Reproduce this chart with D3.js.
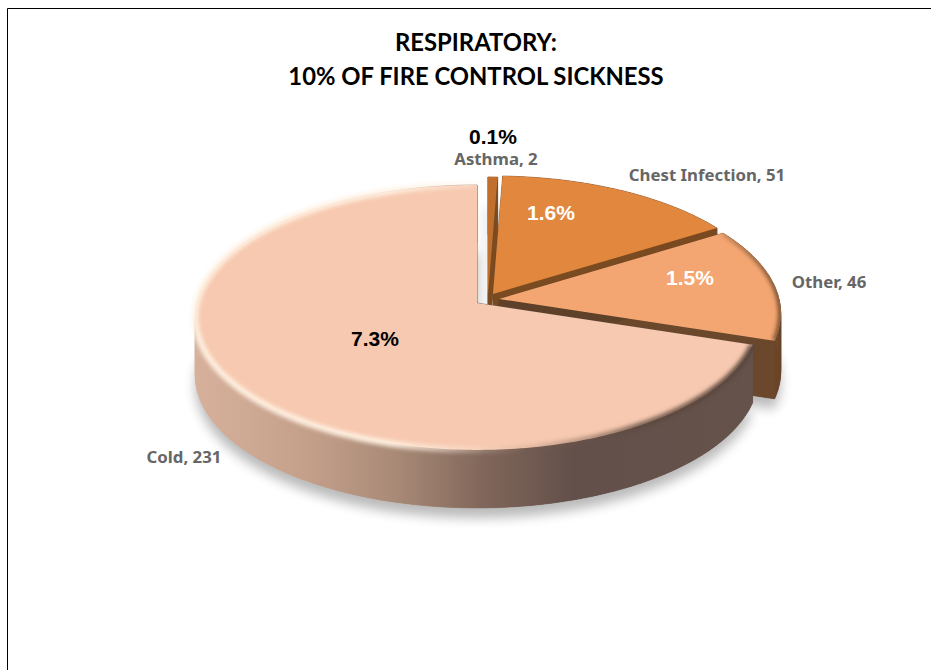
<!DOCTYPE html>
<html><head><meta charset="utf-8">
<script src="https://cdnjs.cloudflare.com/ajax/libs/d3/7.8.5/d3.min.js"></script>
<style>html,body{margin:0;padding:0;background:#fff}svg{display:block}</style>
</head><body><svg id="c" width="931" height="670"></svg>
<script>
// data
const categories = ["Asthma","Chest Infection","Other","Cold"];
const counts = [2,51,46,231];
const percentLabels = ["0.1%","1.6%","1.5%","7.3%"];
const titleLines = ["RESPIRATORY:","10% OF FIRE CONTROL SICKNESS"];

// styles
const topColors = ["#C0702C","#E2873E","#F4A672","#F7C9B0"];
const wallColors = ["#7A4A20","#7A4A20","#6B472B","url(#coldWall)"];
const cutColors = ["#7A4A20","#7A4A20","#5F4029","#65524B"];
const pctColors = ["#000","#fff","#fff","#000"];
const explodeApex = [[488,295],[493,294],[499,299],[477,303]];
const pctPos = [[493,144],[551,220],[690,285],[375,346]];
const namePos = [[496,165],[707,181],[829,288],[184,463]];

const W=931,H=670, a=280, b=130.9, k=0.109, depth=58;
const svg=d3.select("#c");
const defs=svg.append("defs");
const blur=(id,s)=>defs.append("filter").attr("id",id)
  .attr("x","-20%").attr("y","-20%").attr("width","140%").attr("height","140%")
  .append("feGaussianBlur").attr("stdDeviation",s);
blur("soft",6); blur("edge",2);
const grad=(id,x1,x2,stops)=>{const g=defs.append("linearGradient").attr("id",id)
  .attr("gradientUnits","userSpaceOnUse").attr("x1",x1).attr("x2",x2).attr("y1",0).attr("y2",0);
  stops.forEach(s=>g.append("stop").attr("offset",s[0]).attr("stop-color",s[1]).attr("stop-opacity",s[2]===undefined?1:s[2]));};
grad("coldWall",196,750,[[0,"#D6B09B"],[0.2,"#C4A08A"],[0.36,"#A98A77"],[0.52,"#80665A"],[0.68,"#63504A"],[1,"#65524B"]]);
grad("coldRim",196,750,[[0,"#FFF1E2",1],[0.35,"#FFF1E2",1],[0.52,"#FFF1E2",0.2],[0.6,"#7a6050",0.15],[0.8,"#5a463c",0.8],[1,"#5a463c",1]]);
grad("otherRim",660,780,[[0,"#7a4f30",0.0],[0.5,"#7a4f30",0.35],[1,"#6B472B",1]]);

// frame
svg.append("path").attr("d",d3.line()([[7.5,H],[7.5,8.5],[W,8.5]])).attr("fill","none").attr("stroke","#000").attr("stroke-width",1);

const arcs=d3.pie().sort(null).startAngle(0).endAngle(2*Math.PI)(counts);
const proj=(t,ap)=>{const u=Math.sin(t),v=Math.cos(t),d=1+k*v;return [ap[0]+a*u/d, ap[1]-b*v/d];};
const line=d3.line();
const slices=arcs.map((d,i)=>{
  const ap=explodeApex[i], n=Math.max(3,Math.ceil((d.endAngle-d.startAngle)*60));
  const rim=d3.range(n+1).map(j=>proj(d.startAngle+(d.endAngle-d.startAngle)*j/n,ap));
  return {i,ap,rim,d};
});
const down=p=>[p[0],p[1]+depth];

// shadows first
const sh=svg.append("g").attr("filter","url(#soft)").attr("opacity",0.27);
slices.forEach(s=>{
  const poly=[s.ap,...s.rim];
  if(s.i>=2) sh.append("path").attr("d",line(poly.map(down))+"Z").attr("fill","#000").attr("transform","translate(0,10)");
  if(s.i<2) sh.append("path").attr("d",line(poly)+"Z").attr("fill","#000").attr("opacity",0.35).attr("transform","translate(-5,30)");
});

// slices back to front
slices.forEach(s=>{
  const g=svg.append("g");
  const poly=[s.ap,...s.rim];
  [[s.ap,s.rim[0]],[s.ap,s.rim[s.rim.length-1]]].forEach(e=>{
    g.append("path").attr("d",line([e[0],e[1],down(e[1]),down(e[0])])+"Z")
     .attr("fill",cutColors[s.i]).attr("stroke",cutColors[s.i]).attr("stroke-width",0.5).attr("stroke-linejoin","round");
  });
  g.append("path").attr("d",line(poly.map(down))+"Z").attr("fill",wallColors[s.i]);
  const strip=s.rim.slice(0,-1).map((p,j)=>"M"+[p,s.rim[j+1],down(s.rim[j+1]),down(p)].join("L")+"Z").join("");
  g.append("path").attr("d",strip).attr("fill",wallColors[s.i]).attr("stroke",wallColors[s.i]).attr("stroke-width",0.6);
  g.append("path").attr("d",line(poly)+"Z").attr("fill",topColors[s.i]);
  if(s.i===3){
    g.append("path").attr("d",line(s.rim)).attr("fill","none").attr("stroke","url(#coldRim)").attr("stroke-width",6).attr("filter","url(#edge)");
  }
  if(s.i===2){
    defs.append("clipPath").attr("id","clip2").append("path").attr("d",line(poly)+"Z"+strip);
    g.append("g").attr("clip-path","url(#clip2)").append("path").attr("d",line(s.rim)).attr("fill","none")
     .attr("stroke","url(#otherRim)").attr("stroke-width",5).attr("filter","url(#edge)");
  }
});

// text
svg.append("g").selectAll("text").data(titleLines).join("text")
  .attr("x",476).attr("y",(d,i)=>51+i*34).attr("text-anchor","middle")
  .attr("font-family","Lato").attr("font-weight",700).attr("font-size",23.8).attr("fill","#000").text(d=>d);
svg.append("g").selectAll("text").data(arcs).join("text")
  .attr("x",(d,i)=>namePos[i][0]).attr("y",(d,i)=>namePos[i][1]).attr("text-anchor","middle")
  .attr("font-family","Noto Sans").attr("font-weight",700).attr("font-size",16.8).attr("fill","#666")
  .text((d,i)=>categories[i]+", "+d.value);
svg.append("g").selectAll("text").data(percentLabels).join("text")
  .attr("x",(d,i)=>pctPos[i][0]).attr("y",(d,i)=>pctPos[i][1]).attr("text-anchor","middle")
  .attr("font-family","Liberation Sans").attr("font-weight",700).attr("font-size",21)
  .attr("fill",(d,i)=>pctColors[i]).text(d=>d);
</script></body></html>
